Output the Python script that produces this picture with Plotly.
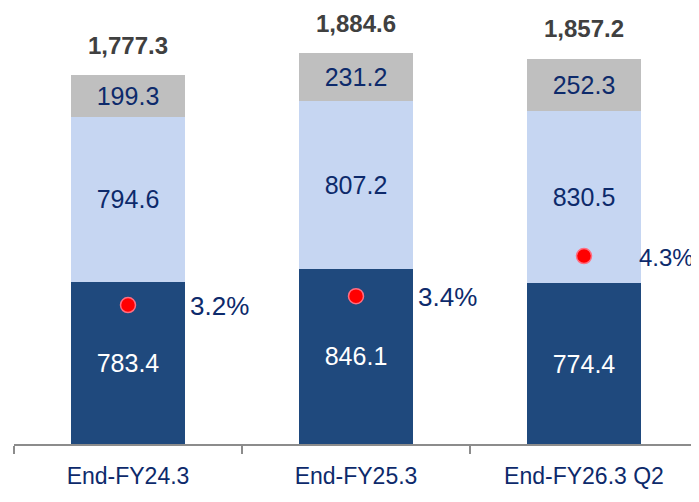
import plotly.graph_objects as go

categories = ["End-FY24.3", "End-FY25.3", "End-FY26.3 Q2"]
bottom_vals = [783.4, 846.1, 774.4]
middle_vals = [794.6, 807.2, 830.5]
top_vals = [199.3, 231.2, 252.3]
totals = [1777.3, 1884.6, 1857.2]
ratio_vals = [3.2, 3.4, 4.3]
ratio_labels = ["3.2%", "3.4%", "4.3%"]

DARK = "#1F497D"
LIGHT = "#C6D6F2"
GRAY = "#BFBFBF"
NAVY = "#0D2A6B"
FONT = "Liberation Sans, Arial, sans-serif"

fig = go.Figure()
fig.add_trace(go.Bar(x=categories, y=bottom_vals, marker_color=DARK, marker_line_width=0,
                     texttemplate="%{y:.1f}", textposition="inside", insidetextanchor="middle",
                     textfont=dict(color="white", size=25, family=FONT), textangle=0))
fig.add_trace(go.Bar(x=categories, y=middle_vals, marker_color=LIGHT, marker_line_width=0,
                     texttemplate="%{y:.1f}", textposition="inside", insidetextanchor="middle",
                     textfont=dict(color=NAVY, size=25, family=FONT), textangle=0))
fig.add_trace(go.Bar(x=categories, y=top_vals, marker_color=GRAY, marker_line_width=0,
                     texttemplate="%{y:.1f}", textposition="inside", insidetextanchor="middle",
                     textfont=dict(color=NAVY, size=25, family=FONT), textangle=0))
fig.add_trace(go.Scatter(x=categories, y=ratio_vals, yaxis="y2", mode="markers",
                         marker=dict(color="#FF0000", size=15,
                                     line=dict(color="rgba(255,110,130,1)", width=1.5))))

annotations = []
for c, t in zip(categories, totals):
    annotations.append(dict(x=c, y=t, xref="x", yref="y", text=f"<b>{t:,.1f}</b>",
                            showarrow=False, yanchor="middle", yshift=30,
                            font=dict(size=24, color="#404040", family=FONT)))
shifts = [60, 60, 53]
sizes = [26, 26, 24]
for c, r, lab, xs, fs in zip(categories, ratio_vals, ratio_labels, shifts, sizes):
    annotations.append(dict(x=c, y=r, xref="x", yref="y2", text=lab, showarrow=False,
                            xanchor="left", xshift=xs, yanchor="middle", yshift=-1,
                            font=dict(size=fs, color=NAVY, family=FONT)))

fig.update_layout(
    width=699, height=502,
    margin=dict(l=6, r=9, t=0, b=66),
    barmode="stack", bargap=0.5,
    plot_bgcolor="white", paper_bgcolor="white",
    showlegend=False,
    annotations=annotations,
    xaxis=dict(range=[-0.5, 2.5], showline=True, linecolor="#8C8C8C", linewidth=1.5,
               ticks="outside", tickson="boundaries", ticklen=8, tickcolor="#8C8C8C",
               tickwidth=1.5, ticklabelstandoff=11,
               tickfont=dict(size=23, color=NAVY, family=FONT), showgrid=False),
    yaxis=dict(range=[0, 2102], visible=False, showgrid=False),
    yaxis2=dict(range=[0.08, 9.87], overlaying="y", visible=False, showgrid=False),
)

fig.write_html("out.html")
